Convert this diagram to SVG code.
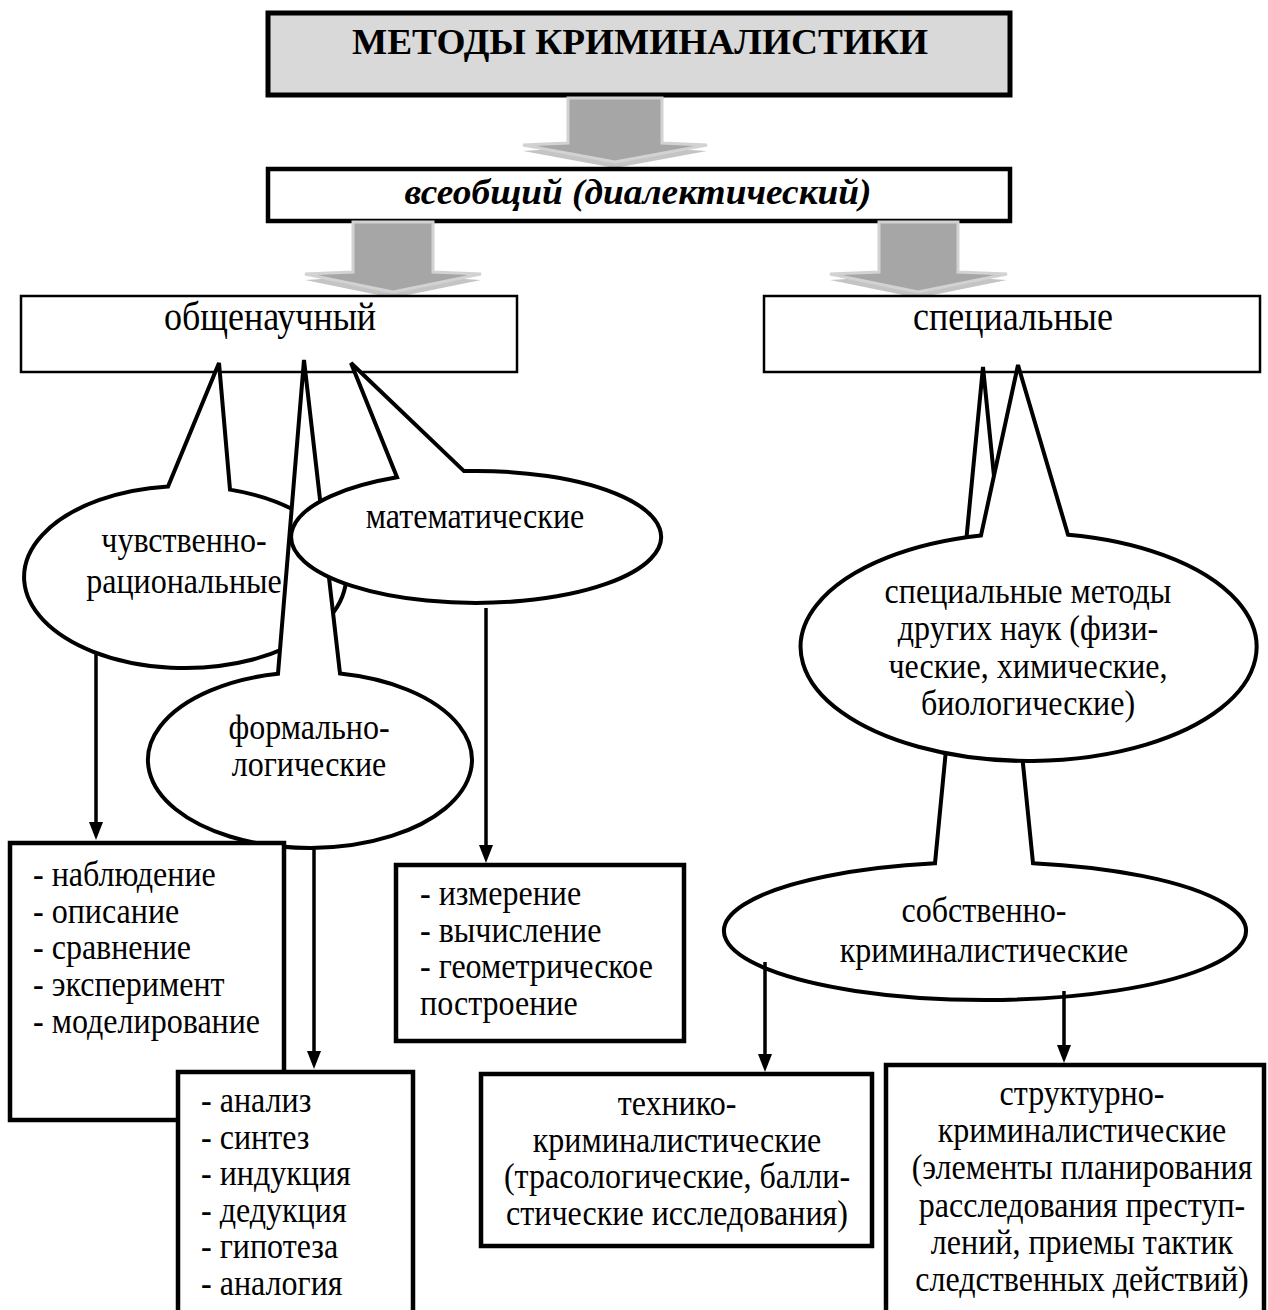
<svg xmlns="http://www.w3.org/2000/svg" width="1268" height="1310" viewBox="0 0 1268 1310">
  <style>
    .box { fill: #fff; stroke: #000; stroke-width: 4.5; }
    .thin { stroke-width: 2.5; }
    .title-box { fill: #d9d9d9; stroke: #000; stroke-width: 5; }
    .callout { fill: #fff; stroke: #000; stroke-width: 4; stroke-linejoin: miter; }
    .conn { fill: none; stroke: #000; stroke-width: 3.5; marker-end: url(#ah); }
    .ba { fill: #a6a6a6; stroke: #d2d2d2; stroke-width: 3; stroke-linejoin: miter; }
    .ba-shadow { fill: #c4c4c4; }
    .txt { font-family: "Liberation Serif", "Times New Roman", serif; font-size: 36px; fill: #000; }
    .lbl { font-size: 40px; }
    .c { text-anchor: middle; }
  </style>
  <defs>
    <marker id="ah" markerUnits="userSpaceOnUse" viewBox="0 0 18 14" refX="0" refY="7" markerWidth="18" markerHeight="14" orient="auto">
      <path d="M0,0 L18,7 L0,14 Z" fill="#000"/>
    </marker>
  </defs>

  <!-- heading -->
  <g id="title">
    <rect class="title-box" x="268" y="13" width="742" height="82"/>
    <text class="txt c" x="640" y="54" font-size="42" font-weight="bold" textLength="576" lengthAdjust="spacingAndGlyphs">МЕТОДЫ КРИМИНАЛИСТИКИ</text>
  </g>

  <!-- grey block arrows -->
  <g id="block-arrow-top">
    <polygon class="ba-shadow" points="568,103 662,103 662,148 707,151 615,168 523,151 568,148"/>
    <polygon class="ba" points="568,98 662,98 662,143 707,145 615,162 523,145 568,143"/>
  </g>

  <g id="universal">
    <rect class="box" x="268" y="169" width="742" height="52" stroke-width="5"/>
    <text class="txt c" x="638" y="204" font-size="39" font-weight="bold" font-style="italic" textLength="467" lengthAdjust="spacingAndGlyphs">всеобщий (диалектический)</text>
  </g>

  <g id="block-arrow-left">
    <polygon class="ba-shadow" points="353,227 433,227 433,277 481,280 393,298 305,280 353,277"/>
    <polygon class="ba" points="353,222 433,222 433,272 481,274 393,292 305,274 353,272"/>
  </g>
  <g id="block-arrow-right">
    <polygon class="ba-shadow" points="879,227 958,227 958,277 1007,280 918,298 830,280 879,277"/>
    <polygon class="ba" points="879,222 958,222 958,272 1007,274 918,292 830,274 879,272"/>
  </g>

  <g id="general-scientific">
    <rect class="box thin" x="21" y="296" width="496" height="76"/>
    <text class="txt lbl c" transform="translate(270 330) scale(0.9 1)">общенаучный</text>
  </g>

  <g id="special">
    <rect class="box thin" x="764" y="296" width="496" height="76"/>
    <text class="txt lbl c" transform="translate(1013 330) scale(0.9 1)">специальные</text>
  </g>

  <!-- callouts of the general-scientific branch -->
  <g id="sensory-rational">
    <path class="callout" d="M230,489.6 A161,91 0 1 1 168,486.5 L219,363 Z"/>
    <text class="txt c" transform="translate(184 552) scale(0.89 1)"><tspan x="0">чувственно-</tspan><tspan x="0" dy="41">рациональные</tspan></text>
  </g>

  <g id="formal-logical">
    <path class="callout" d="M340,673.5 A162,88 0 1 1 278,673.7 L304,360 Z"/>
    <text class="txt c" transform="translate(309 739) scale(0.89 1)"><tspan x="0">формально-</tspan><tspan x="0" dy="37">логические</tspan></text>
  </g>

  <g id="mathematical">
    <path class="callout" d="M464,471.1 A185,66 0 1 1 397,477.3 L351,363 Z"/>
    <text class="txt c" transform="translate(475 528) scale(0.89 1)">математические</text>
  </g>

  <!-- callouts of the special branch -->
  <g id="forensic-proper">
    <path class="callout" d="M1033,863.2 A261,69 0 1 1 935,863.3 L983,367 Z"/>
    <text class="txt c" transform="translate(984 922) scale(0.89 1)"><tspan x="0">собственно-</tspan><tspan x="0" dy="40">криминалистические</tspan></text>
  </g>

  <g id="other-sciences">
    <path class="callout" d="M1068,534.7 A228,114 0 1 1 981,535.5 L1018,365 Z"/>
    <text class="txt c" transform="translate(1028 603) scale(0.89 1)"><tspan x="0">специальные методы</tspan><tspan x="0" dy="37.3">других наук (физи-</tspan><tspan x="0" dy="37.3">ческие, химические,</tspan><tspan x="0" dy="37.3">биологические)</tspan></text>
  </g>

  <!-- method lists -->
  <g id="empirical-list">
    <rect class="box" x="10" y="843" width="274" height="277"/>
    <text class="txt" transform="translate(33 886) scale(0.89 1)"><tspan x="0">- наблюдение</tspan><tspan x="0" dy="36.7">- описание</tspan><tspan x="0" dy="36.7">- сравнение</tspan><tspan x="0" dy="36.7">- эксперимент</tspan><tspan x="0" dy="36.7">- моделирование</tspan></text>
  </g>

  <g id="logical-list">
    <rect class="box" x="178" y="1072" width="235" height="260"/>
    <text class="txt" transform="translate(201 1112) scale(0.89 1)"><tspan x="0">- анализ</tspan><tspan x="0" dy="36.6">- синтез</tspan><tspan x="0" dy="36.6">- индукция</tspan><tspan x="0" dy="36.6">- дедукция</tspan><tspan x="0" dy="36.6">- гипотеза</tspan><tspan x="0" dy="36.6">- аналогия</tspan></text>
  </g>

  <g id="math-list">
    <rect class="box" x="396" y="865" width="288" height="176"/>
    <text class="txt" transform="translate(420 905) scale(0.89 1)"><tspan x="0">- измерение</tspan><tspan x="0" dy="36.7">- вычисление</tspan><tspan x="0" dy="36.7">- геометрическое</tspan><tspan x="0" dy="36.7">построение</tspan></text>
  </g>

  <g id="technical-forensic">
    <rect class="box" x="481" y="1074" width="391" height="172"/>
    <text class="txt c" transform="translate(677 1115) scale(0.89 1)"><tspan x="0">технико-</tspan><tspan x="0" dy="36.7">криминалистические</tspan><tspan x="0" dy="36.7">(трасологические, балли-</tspan><tspan x="0" dy="36.7">стические исследования)</tspan></text>
  </g>

  <g id="structural-forensic">
    <rect class="box" x="886" y="1065" width="378" height="270"/>
    <text class="txt c" transform="translate(1082 1105) scale(0.89 1)"><tspan x="0">структурно-</tspan><tspan x="0" dy="37.2">криминалистические</tspan><tspan x="0" dy="37.2">(элементы планирования</tspan><tspan x="0" dy="37.2">расследования преступ-</tspan><tspan x="0" dy="37.2">лений, приемы тактик</tspan><tspan x="0" dy="37.2">следственных действий)</tspan></text>
  </g>

  <!-- connectors -->
  <g id="connectors">
    <line class="conn" x1="96" y1="652" x2="96" y2="822"/>
    <line class="conn" x1="314" y1="847" x2="314" y2="1051"/>
    <line class="conn" x1="486" y1="608" x2="486" y2="845"/>
    <line class="conn" x1="765" y1="962" x2="765" y2="1054"/>
    <line class="conn" x1="1064" y1="991" x2="1064" y2="1045"/>
  </g>
</svg>
